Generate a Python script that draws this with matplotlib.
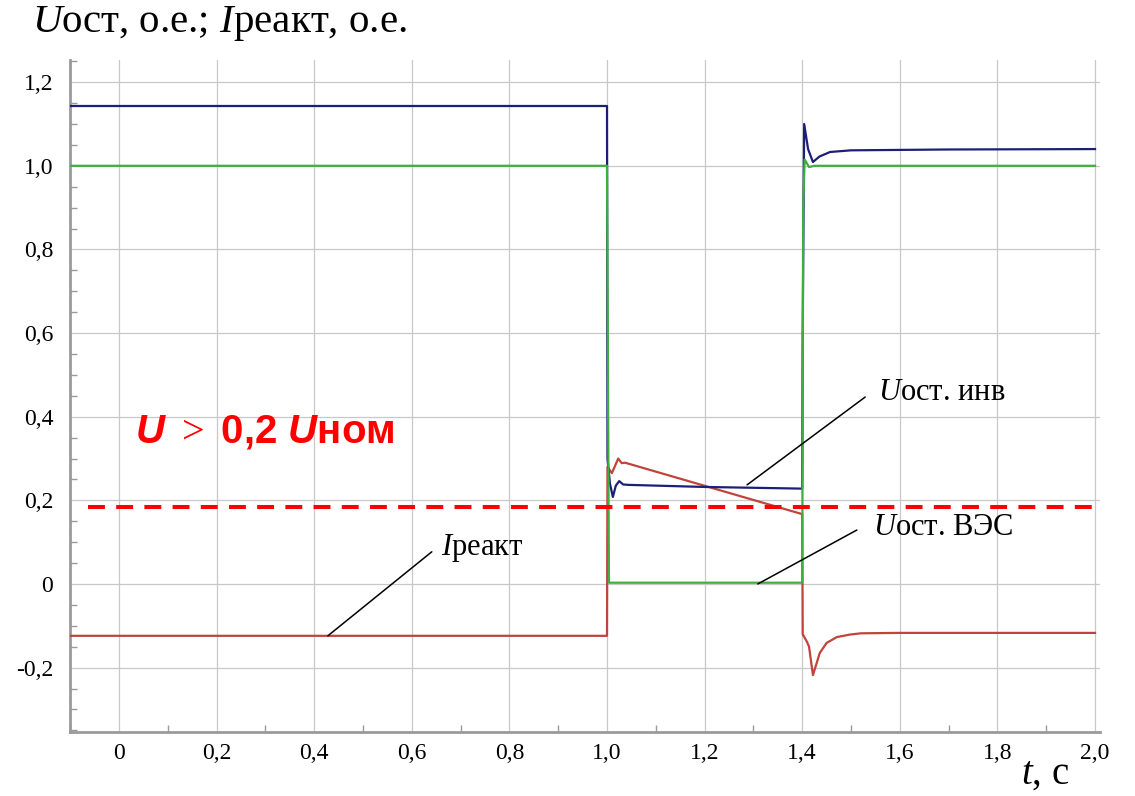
import matplotlib
matplotlib.use("Agg")
import matplotlib.pyplot as plt
from matplotlib.ticker import FixedLocator, MultipleLocator, FixedFormatter

plt.rcParams['font.family'] = ['Liberation Serif', 'DejaVu Serif']
plt.rcParams['mathtext.fontset'] = 'custom'
plt.rcParams['mathtext.rm'] = 'Liberation Serif'
plt.rcParams['mathtext.it'] = 'Liberation Serif:italic'
plt.rcParams['mathtext.sf'] = 'Liberation Sans:italic:bold'

# ---------------- data ----------------
# residual voltage at inverter terminals
t_inv = [-0.1, 1.0, 1.001, 1.006, 1.012, 1.018, 1.025, 1.033, 1.043, 1.2, 1.4,
         1.401, 1.404, 1.412, 1.422, 1.435, 1.457, 1.5, 1.7, 2.0]
u_inv = [1.143, 1.143, 0.30, 0.24, 0.208, 0.235, 0.246, 0.238, 0.237, 0.232, 0.228,
         0.60, 1.10, 1.04, 1.009, 1.022, 1.033, 1.037, 1.039, 1.04]

# residual voltage at wind farm (ВЭС)
t_ves = [-0.1, 1.0, 1.004, 1.4, 1.402, 1.405, 1.414, 1.425, 2.0]
u_ves = [1.0, 1.0, 0.003, 0.003, 0.9, 1.015, 0.997, 1.0, 1.0]

# reactive current
t_react = [-0.1, 1.0, 1.001, 1.01, 1.023, 1.03, 1.037, 1.4, 1.401, 1.41, 1.414,
           1.422, 1.436, 1.45, 1.471, 1.498, 1.52, 1.6, 2.0]
i_react = [-0.124, -0.124, 0.28, 0.265, 0.30, 0.289, 0.29, 0.167, -0.12, -0.139, -0.15,
           -0.218, -0.165, -0.141, -0.127, -0.121, -0.118, -0.117, -0.117]

threshold_level = 0.185
threshold_t = [-0.064, 2.01]

x_ticks = [0, 0.2, 0.4, 0.6, 0.8, 1.0, 1.2, 1.4, 1.6, 1.8, 2.0]
x_labels = ["0", "0,2", "0,4", "0,6", "0,8", "1,0", "1,2", "1,4", "1,6", "1,8", "2,0"]
y_ticks = [-0.2, 0, 0.2, 0.4, 0.6, 0.8, 1.0, 1.2]
y_labels = ["-0,2", "0", "0,2", "0,4", "0,6", "0,8", "1,0", "1,2"]

# ---------------- figure ----------------
W, H = 1135, 796
fig = plt.figure(figsize=(W / 100, H / 100), dpi=100)
ax = fig.add_axes([70 / W, 64 / H, 1030 / W, 672 / H])
ax.set_xlim(-0.1004, 2.0102)
ax.set_ylim(-0.354, 1.253)

col_blue = '#1c1f78'
col_green = '#3fae3f'
col_red = '#c0443c'

ax.plot(t_react, i_react, color=col_red, lw=1.6, zorder=3)
ax.plot(t_inv, u_inv, color=col_blue, lw=1.6, zorder=4)
ax.plot(t_ves, u_ves, color=col_green, lw=1.6, zorder=5)

ax.plot(threshold_t, [threshold_level, threshold_level], color='#ff0000', lw=2.9,
        dashes=(4.2, 2.8), zorder=6, clip_on=False)

# axes styling
for s in ['top', 'right']:
    ax.spines[s].set_visible(False)
for s in ['left', 'bottom']:
    ax.spines[s].set_color('#9a9a9a')
    ax.spines[s].set_linewidth(2)

ax.xaxis.set_major_locator(FixedLocator(x_ticks))
ax.xaxis.set_major_formatter(FixedFormatter(x_labels))
ax.yaxis.set_major_locator(FixedLocator(y_ticks))
ax.yaxis.set_major_formatter(FixedFormatter(y_labels))
ax.xaxis.set_minor_locator(MultipleLocator(0.1))
ax.yaxis.set_minor_locator(MultipleLocator(0.05))
ax.tick_params(axis='both', which='major', length=0, labelsize=17)
ax.tick_params(axis='x', which='major', pad=8)
ax.tick_params(axis='y', which='major', pad=12)
ax.tick_params(axis='both', which='minor', direction='in', length=5,
               width=1, color='#9a9a9a')
ax.grid(True, which='major', color='#c8c8c8', lw=0.9, zorder=0)

# annotations
def leader(p0, p1):
    ax.annotate("", xy=p0, xytext=p1,
                arrowprops=dict(arrowstyle='-', color='black', lw=1.1,
                                shrinkA=0, shrinkB=0), zorder=7)

leader((0.428, -0.124), (0.641, 0.077))
ax.text(0.66, 0.085, r"$\it{I}$реакт", fontsize=22, ha='left', va='center')

leader((1.287, 0.237), (1.529, 0.447))
ax.text(1.555, 0.458, r"$\it{U}$ост. инв", fontsize=22, ha='left', va='center')

leader((1.309, 0.0), (1.512, 0.129))
ax.text(1.545, 0.136, r"$\it{U}$ост. ВЭС", fontsize=22, ha='left', va='center')

ax.text(0.033, 0.363, r"$\mathsf{U}$ $>$ 0,2 $\mathsf{U}$ном", fontsize=29,
        color='#ff0000', fontweight='bold', family='Liberation Sans',
        ha='left', va='center', zorder=8)

# axis titles
fig.text(32 / W, 1 - 32 / H, r"$\it{U}$ост, о.е.; $\it{I}$реакт, о.е.", fontsize=29.5,
         ha='left', va='baseline')
fig.text(1021 / W, 1 - 784 / H, r"$\it{t}$, с", fontsize=28, ha='left', va='baseline')

fig.savefig("out.png", dpi=100)
